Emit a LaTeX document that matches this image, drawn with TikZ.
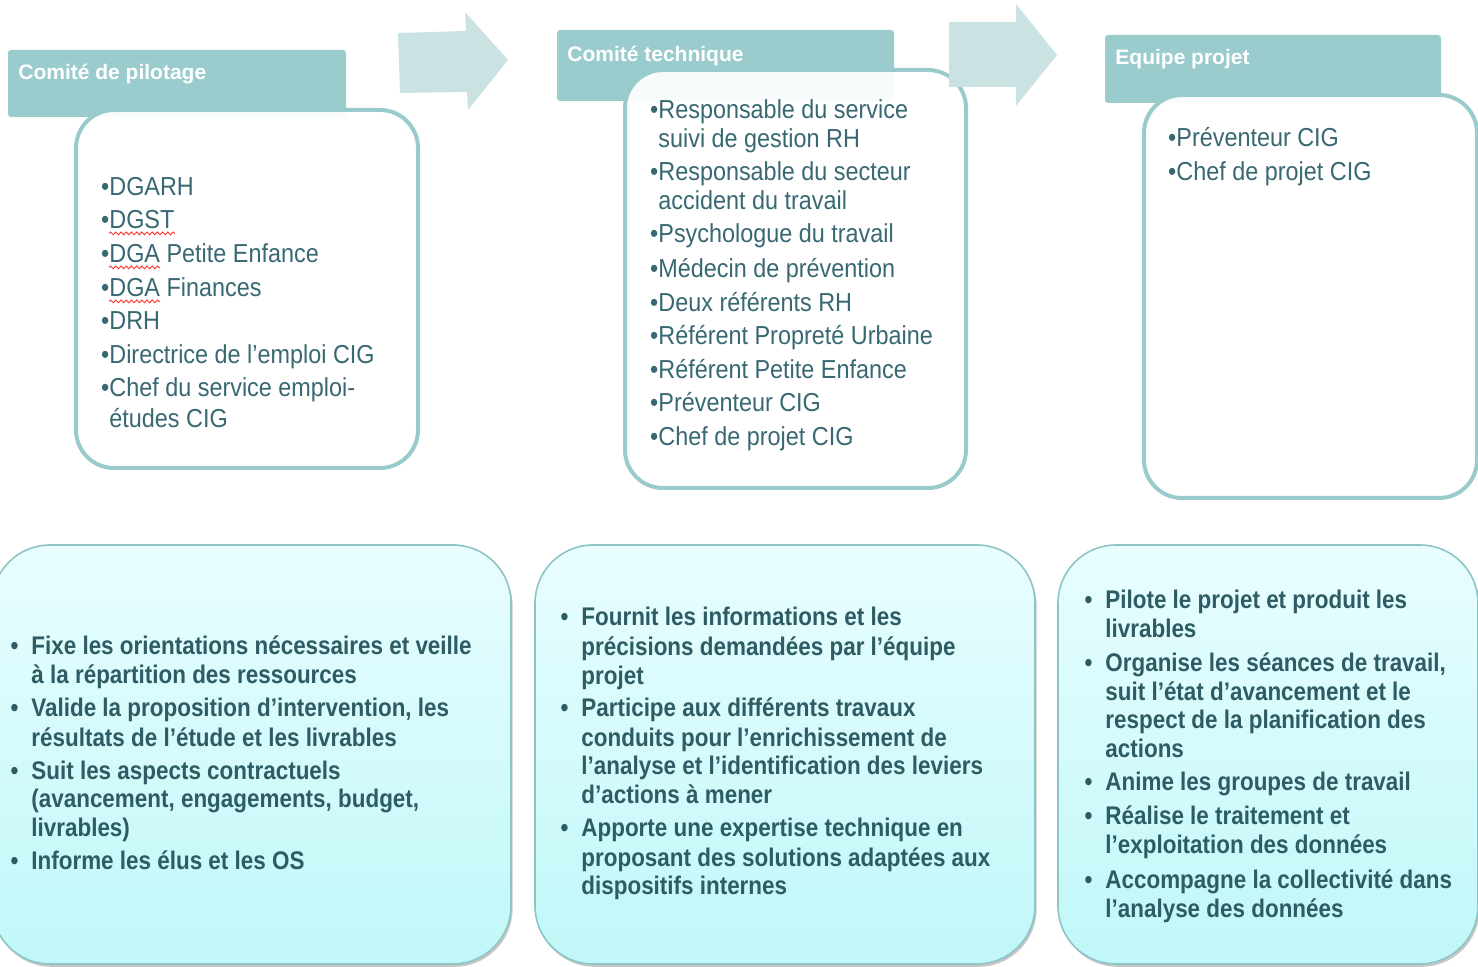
\documentclass[tikz,border=0pt]{standalone}
\usepackage{fontspec}
\setmainfont{Liberation Sans}
\newfontfamily\listfont[FakeStretch=0.9]{Liberation Sans}
\newfontfamily\rolefont[FakeStretch=0.88]{Liberation Sans}
\usetikzlibrary{shadows,decorations.pathmorphing}

\definecolor{tabfill}{RGB}{155,204,205}
\definecolor{arrowfill}{RGB}{203,226,226}
\definecolor{boxline}{RGB}{154,203,204}
\definecolor{roletop}{RGB}{233,254,255}
\definecolor{rolebot}{RGB}{192,247,248}
\definecolor{roleline}{RGB}{141,197,198}
\definecolor{txtlist}{RGB}{56,104,114}
\definecolor{txtrole}{RGB}{46,92,100}

% bullets: small one glued to the text, wider one with a gap
\newcommand\tbul{\llap{•}}
\newcommand\bbul{\llap{•\hspace{6.5pt}}}

\begin{document}
\begin{tikzpicture}[x=0.5pt,y=-0.5pt,
  tab/.style={fill=tabfill, rounded corners=1.5pt},
  tabtitle/.style={anchor=base west, inner sep=0pt, text=white,
    font=\fontsize{10.5}{12}\selectfont\bfseries},
  memberbox/.style={draw=boxline, line width=2pt, rounded corners=19pt,
    fill=white, fill opacity=0.93, draw opacity=1},
  flowarrow/.style={fill=arrowfill},
  rolebox/.style={draw=roleline, line width=0.8pt, rounded corners=29pt,
    top color=roletop, bottom color=rolebot,
    drop shadow={shadow xshift=0.8pt, shadow yshift=-1.4pt,
      opacity=0.45, fill=gray}},
  listtxt/.style={anchor=base west, inner sep=0pt, text=txtlist,
    font=\fontsize{13}{15}\listfont},
  roletxt/.style={anchor=base west, inner sep=0pt, text=txtrole,
    font=\fontsize{12.75}{14.5}\rolefont\bfseries},
  spell/.style={draw=red!80, line width=0.45pt, decorate,
    decoration={snake, amplitude=0.7pt, segment length=2.6pt}}
]
\useasboundingbox (0,0) rectangle (1478,967);

% ---------- headers ----------
\path[tab] (8,50) rectangle (346,117);
\path[tab] (557,30) rectangle (894,101);
\path[tab] (1105,35) rectangle (1441,103);
\node[tabtitle] (t1) at (18,80) {Comité de pilotage};
\node[tabtitle] (t2) at (567,62) {Comité technique};
\node[tabtitle] (t3) at (1115,65) {Equipe projet};

% ---------- member boxes ----------
\path[memberbox] (76,110) rectangle (418,468);
\path[memberbox] (625,70) rectangle (966,488);
\path[memberbox] (1144,95) rectangle (1477,498);

% ---------- arrows between bodies ----------
\path[flowarrow] (398,33) -- (466,31) -- (465,12) -- (508,60) -- (468,110)
  -- (467,92) -- (400,93) -- cycle;
\path[flowarrow] (949,22) -- (1016,22) -- (1016,4) -- (1057,55) -- (1016,106)
  -- (1016,87) -- (949,87) -- cycle;

% ---------- members: steering committee ----------
\foreach \y/\t [count=\i] in {
  196/{\tbul DGARH},
  229/{\tbul DGST},
  263/{\tbul DGA Petite Enfance},
  297/{\tbul DGA Finances},
  330/{\tbul DRH},
  364/{\tbul Directrice de l’emploi CIG},
  397/{\tbul Chef du service emploi-},
  428/{études CIG}}
  \node[listtxt, name=a\i] at (109,\y) {\t};

\draw[spell] ([yshift=-2.2pt]a2.base west) -- ([yshift=-2.2pt]a2.base east);
\draw[spell] ([yshift=-2.2pt]a3.base west) -- ++(51,0);
\draw[spell] ([yshift=-2.2pt]a4.base west) -- ++(51,0);

% ---------- members: technical committee ----------
\foreach \y/\t [count=\i] in {
  119/{\tbul Responsable du service},
  148/{suivi de gestion RH},
  181/{\tbul Responsable du secteur},
  210/{accident du travail},
  243/{\tbul Psychologue du travail},
  278/{\tbul Médecin de prévention},
  312/{\tbul Deux référents RH},
  345/{\tbul Référent Propreté Urbaine},
  379/{\tbul Référent Petite Enfance},
  412/{\tbul Préventeur CIG},
  446/{\tbul Chef de projet CIG}}
  \node[listtxt, name=b\i] at (658,\y) {\t};

% ---------- members: project team ----------
\foreach \y/\t [count=\i] in {
  147/{\tbul Préventeur CIG},
  181/{\tbul Chef de projet CIG}}
  \node[listtxt, name=c\i] at (1176,\y) {\t};

% ---------- role boxes ----------
\path[rolebox] (-8,545) rectangle (511,964);
\path[rolebox] (535,545) rectangle (1035,964);
\path[rolebox] (1058,545) rectangle (1478,964);

\foreach \y/\t [count=\i] in {
  654/{\bbul Fixe les orientations nécessaires et veille},
  683/{à la répartition des ressources},
  717/{\bbul Valide la proposition d’intervention, les},
  746/{résultats de l’étude et les livrables},
  779/{\bbul Suit les aspects contractuels},
  807/{(avancement, engagements, budget,},
  836/{livrables)},
  869/{\bbul Informe les élus et les OS}}
  \node[roletxt, name=ra\i] at (31,\y) {\t};

\foreach \y/\t [count=\i] in {
  626/{\bbul Fournit les informations et les},
  655/{précisions demandées par l’équipe},
  684/{projet},
  717/{\bbul Participe aux différents travaux},
  746/{conduits pour l’enrichissement de},
  774/{l’analyse et l’identification des leviers},
  803/{d’actions à mener},
  836/{\bbul Apporte une expertise technique en},
  866/{proposant des solutions adaptées aux},
  894/{dispositifs internes}}
  \node[roletxt, name=rb\i] at (581,\y) {\t};

\foreach \y/\t [count=\i] in {
  609/{\bbul Pilote le projet et produit les},
  638/{livrables},
  671/{\bbul Organise les séances de travail,},
  700/{suit l’état d’avancement et le},
  728/{respect de la planification des},
  757/{actions},
  790/{\bbul Anime les groupes de travail},
  824/{\bbul Réalise le traitement et},
  853/{l’exploitation des données},
  888/{\bbul Accompagne la collectivité dans},
  917/{l’analyse des données}}
  \node[roletxt, name=rc\i] at (1105,\y) {\t};
\end{tikzpicture}
\end{document}
